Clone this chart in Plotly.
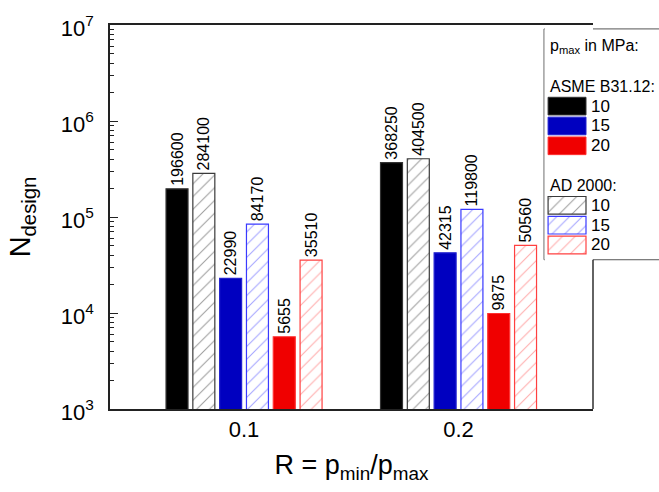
import plotly.graph_objects as go

# ---------------- data ----------------
categories = ["0.1", "0.2"]
asme_10 = [196600, 368250]
asme_15 = [22990, 42315]
asme_20 = [5655, 9875]
ad_10 = [284100, 404500]
ad_15 = [84170, 119800]
ad_20 = [35510, 50560]
pressures = ["10", "15", "20"]
y_tick_vals = [1e3, 1e4, 1e5, 1e6, 1e7]
y_tick_text = ["10<sup>3</sup>", "10<sup>4</sup>", "10<sup>5</sup>", "10<sup>6</sup>", "10<sup>7</sup>"]

FONT = "Liberation Sans, Arial, sans-serif"

solid_colors = ["#000000", "#0000C0", "#F00000"]
hatch_line = ["#3a3a3a", "#3a3aff", "#ff4040"]
hatch_fg = ["#404040", "#4a4aff", "#ff5a5a"]
solid_outline = ["#333333", "#2020d0", "#ff3030"]

fig = go.Figure()

series = [
    (asme_10, "solid", 0), (ad_10, "hatch", 0),
    (asme_15, "solid", 1), (ad_15, "hatch", 1),
    (asme_20, "solid", 2), (ad_20, "hatch", 2),
]

for vals, kind, ci in series:
    if kind == "solid":
        marker = dict(color=solid_colors[ci], line=dict(color=solid_outline[ci], width=1.2))
    else:
        marker = dict(color="white", line=dict(color=hatch_line[ci], width=1.2),
                      pattern=dict(shape="/", fgcolor=hatch_fg[ci], bgcolor="white",
                                   size=9, solidity=0.12, fillmode="overlay"))
    fig.add_trace(go.Bar(
        x=categories, y=vals, marker=marker,
        text=[str(v) for v in vals], textposition="outside", textangle=-90,
        textfont=dict(family=FONT, size=16, color="black"),
        constraintext="none", cliponaxis=False, showlegend=False,
    ))

# ---------------- custom legend (bars on hidden axes) ----------------
legend_rows_asme = [3, 4, 5]
legend_rows_ad = [8, 9, 10]
for i in range(3):
    fig.add_trace(go.Bar(
        y=[legend_rows_asme[i]], x=[0.785], base=[0.07], orientation="h", width=0.89,
        marker=dict(color=solid_colors[i], line=dict(color=solid_outline[i], width=1)),
        xaxis="x2", yaxis="y2", showlegend=False, hoverinfo="skip",
    ))
    fig.add_trace(go.Bar(
        y=[legend_rows_ad[i]], x=[0.785], base=[0.07], orientation="h", width=0.89,
        marker=dict(color="white", line=dict(color=hatch_line[i], width=1.2),
                    pattern=dict(shape="/", fgcolor=hatch_fg[i], bgcolor="white",
                                 size=9, solidity=0.12, fillmode="overlay")),
        xaxis="x2", yaxis="y2", showlegend=False, hoverinfo="skip",
    ))

ann = []
lf = dict(family=FONT, size=16, color="black")
ann.append(dict(x=0.075, y=0, xref="x2", yref="y2", text="p<sub>max</sub> in MPa:",
                showarrow=False, xanchor="left", yanchor="middle", font=lf))
ann.append(dict(x=0.075, y=2, xref="x2", yref="y2", text="ASME B31.12:",
                showarrow=False, xanchor="left", yanchor="middle", font=lf))
ann.append(dict(x=0.075, y=7, xref="x2", yref="y2", text="AD 2000:",
                showarrow=False, xanchor="left", yanchor="middle", font=lf))
for i, p in enumerate(pressures):
    for r in (legend_rows_asme[i], legend_rows_ad[i]):
        ann.append(dict(x=0.92, y=r, xref="x2", yref="y2", text=p,
                        showarrow=False, xanchor="left", yanchor="middle",
                        font=dict(family=FONT, size=17, color="black")))

shapes = [
    # legend box
    dict(type="rect", xref="paper", yref="paper", x0=0.8986, x1=1.2, y0=0.3887, y1=0.9898,
         line=dict(color="#555555", width=1), fillcolor="white", layer="below"),
    # right frame line below the legend
    dict(type="line", xref="paper", yref="paper", x0=1, x1=1, y0=0, y1=0.3887,
         line=dict(color="#222222", width=1.4)),
]

minor_vals = [k * 10 ** n for n in range(3, 7) for k in range(2, 10)]

fig.update_layout(
    width=659, height=492,
    margin=dict(l=110, r=66, t=18, b=83),
    paper_bgcolor="white", plot_bgcolor="white",
    barmode="group", bargap=0.25, bargroupgap=0.18,
    font=dict(family=FONT, color="black"),
    annotations=ann, shapes=shapes,
    xaxis=dict(
        type="category", range=[-0.625, 1.627],
        showline=True, linecolor="#222222", linewidth=1.5, mirror=True,
        ticks="", tickfont=dict(family=FONT, size=22), ticklabelstandoff=0,
        title=dict(text="R = p<sub>min</sub>/p<sub>max</sub>", font=dict(family=FONT, size=27), standoff=14),
        showgrid=False, zeroline=False,
    ),
    yaxis=dict(
        type="log", range=[3, 7],
        tickmode="array", tickvals=y_tick_vals, ticktext=y_tick_text,
        ticks="inside", ticklen=8, tickwidth=1.2, tickcolor="#222222",
        minor=dict(tickmode="array", tickvals=minor_vals, ticks="inside", ticklen=4,
                   tickwidth=1, tickcolor="#222222", showgrid=False),
        showline=True, linecolor="#222222", linewidth=1.5, mirror=False,
        tickfont=dict(family=FONT, size=22), ticklabelstandoff=10, ticklabelshift=3,
        title=dict(text="N<sub>design</sub>", font=dict(family=FONT, size=29), standoff=22),
        showgrid=False, zeroline=False,
    ),
    xaxis2=dict(domain=[0.9, 1.0], range=[0, 1], anchor="y2", visible=False, fixedrange=True),
    yaxis2=dict(domain=[0, 1], range=[18.267, -1.089], anchor="x2", visible=False, fixedrange=True),
)

fig.write_html("out.html")
